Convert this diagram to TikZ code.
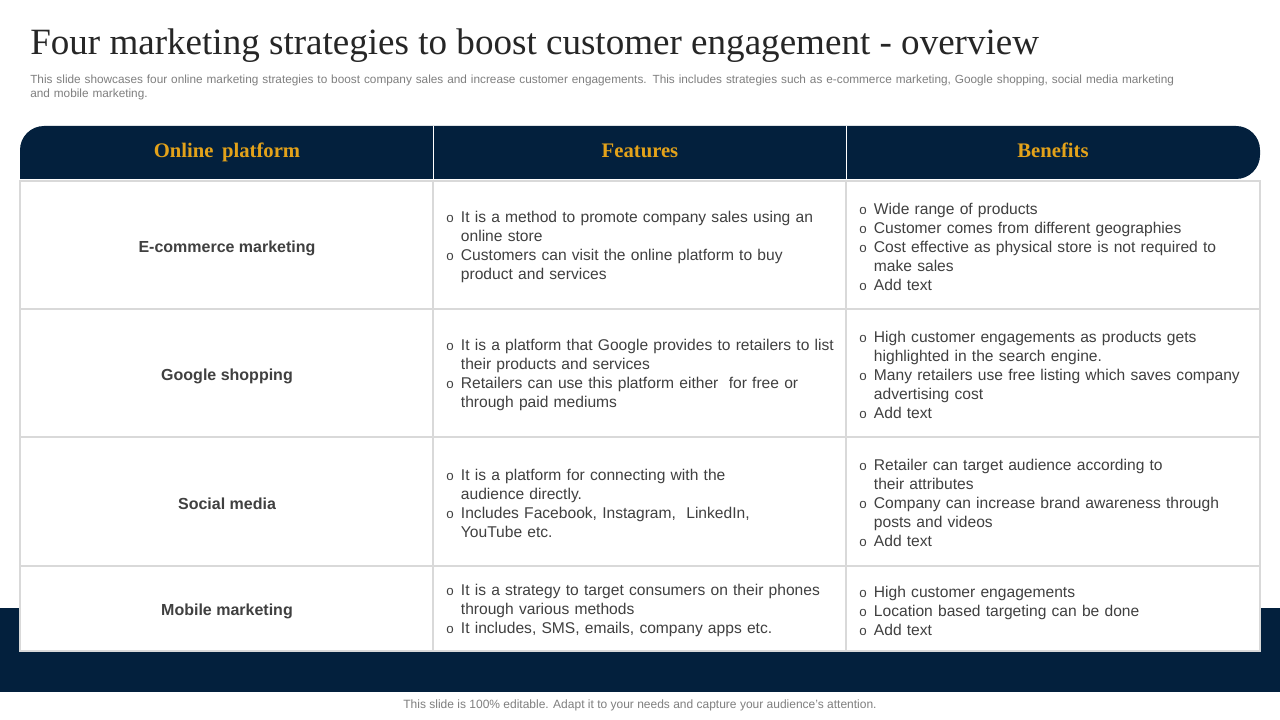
\documentclass[tikz,border=0pt]{standalone}
\usepackage{fontspec}
\setmainfont{Liberation Serif}
\setsansfont{Liberation Sans}
\usetikzlibrary{positioning}

\definecolor{navy}{HTML}{03203D}
\definecolor{gold}{HTML}{E3A21A}
\definecolor{bodygray}{HTML}{404040}
\definecolor{subgray}{HTML}{7F7F7F}
\definecolor{gridgray}{HTML}{D9D9D9}

\newcommand{\bitem}[1]{\par\hyphenpenalty=10000\noindent\hangindent=11pt\hangafter=1\makebox[11pt][l]{\fontsize{10}{10}\selectfont o}#1\par}

\tikzset{
  headtext/.style={font=\fontsize{15.5}{18}\bfseries\selectfont,text=gold,anchor=base},
  rowtext/.style={font=\sffamily\fontsize{12}{15}\bfseries\selectfont,text=bodygray},
  celltext/.style={font=\sffamily\fontsize{11.7}{14.25}\selectfont,text=bodygray,text width=330pt,align=left,inner sep=0pt,anchor=west},
  gridline/.style={draw=gridgray,line width=0.8pt}
}

\begin{document}
\begin{tikzpicture}[x=0.75pt,y=-0.75pt]
\useasboundingbox (0,0) rectangle (1280,720);
\fill[white] (0,0) rectangle (1280,720);

\node[font=\fontsize{27.8}{30}\selectfont,text=black!85,anchor=base west,inner sep=0pt] (title) at (30,55) {Four marketing strategies to boost customer engagement - overview};
\node[font=\sffamily\fontsize{8.85}{10.5}\selectfont,text=subgray,anchor=north west,inner sep=0pt,text width=900pt,align=left] (subtitle) at (30,74.5) {This slide showcases four online marketing strategies to boost company sales and increase customer engagements. This includes strategies such as e-commerce marketing, Google shopping, social media marketing\\and mobile marketing.};

% bottom band
\fill[navy] (0,608) rectangle (1280,692);

% header
\fill[navy] (20,179) [rounded corners=18pt] |- (640,126) -| (1260,179) [sharp corners] -- cycle;
\draw[white,thin] (433,126) -- (433,179);
\draw[white,thin] (846,126) -- (846,179);
\node[headtext] (hPlatform) at (227,158) {Online\, platform};
\node[headtext] (hFeatures) at (640,158) {Features};
\node[headtext] (hBenefits) at (1053,158) {Benefits};

% body
\fill[white] (20,181) rectangle (1260,651);
\draw[gridline] (20,181) rectangle (1260,651);
\draw[gridline] (433,181) -- (433,651);
\draw[gridline] (846,181) -- (846,651);
\draw[gridline] (20,309) -- (1260,309);
\draw[gridline] (20,437) -- (1260,437);
\draw[gridline] (20,566) -- (1260,566);

\node[rowtext] (p1) at (227,248) {E-commerce marketing};
\node[rowtext] (p2) at (227,376) {Google shopping};
\node[rowtext] (p3) at (227,503.5) {Social media};
\node[rowtext] (p4) at (227,611) {Mobile marketing};

\node[celltext] (f1) at (446,243.5) {\bitem{It is a method to promote company sales using an\newline online store}\bitem{Customers can visit the online platform to buy\newline product and services}};
\node[celltext] (b1) at (859,243.5) {\bitem{Wide range of products}\bitem{Customer comes from different geographies}\bitem{Cost effective as physical store is not required to\newline make sales}\bitem{Add text}};

\node[celltext] (f2) at (446,371.5) {\bitem{It is a platform that Google provides to retailers to list\newline their products and services}\bitem{Retailers can use this platform either\ \ for free or\newline through paid mediums}};
\node[celltext] (b2) at (859,371) {\bitem{High customer engagements as products gets\newline highlighted in the search engine.}\bitem{Many retailers use free listing which saves company\newline advertising cost}\bitem{Add text}};

\node[celltext] (f3) at (446,499.5) {\bitem{It is a platform for connecting with the\newline audience directly.}\bitem{Includes Facebook, Instagram,\ \ LinkedIn,\newline YouTube etc.}};
\node[celltext] (b3) at (859,499.5) {\bitem{Retailer can target audience according to\newline their attributes}\bitem{Company can increase brand awareness through\newline posts and videos}\bitem{Add text}};

\node[celltext] (f4) at (446,607) {\bitem{It is a strategy to target consumers on their phones\newline through various methods}\bitem{It includes, SMS, emails, company apps etc.}};
\node[celltext] (b4) at (859,607) {\bitem{High customer engagements}\bitem{Location based targeting can be done}\bitem{Add text}};

\node[font=\sffamily\fontsize{9}{10}\selectfont,text=subgray] (footer) at (640,705) {This slide is 100\% editable. Adapt it to your needs and capture your audience's attention.};

\end{tikzpicture}
\end{document}
